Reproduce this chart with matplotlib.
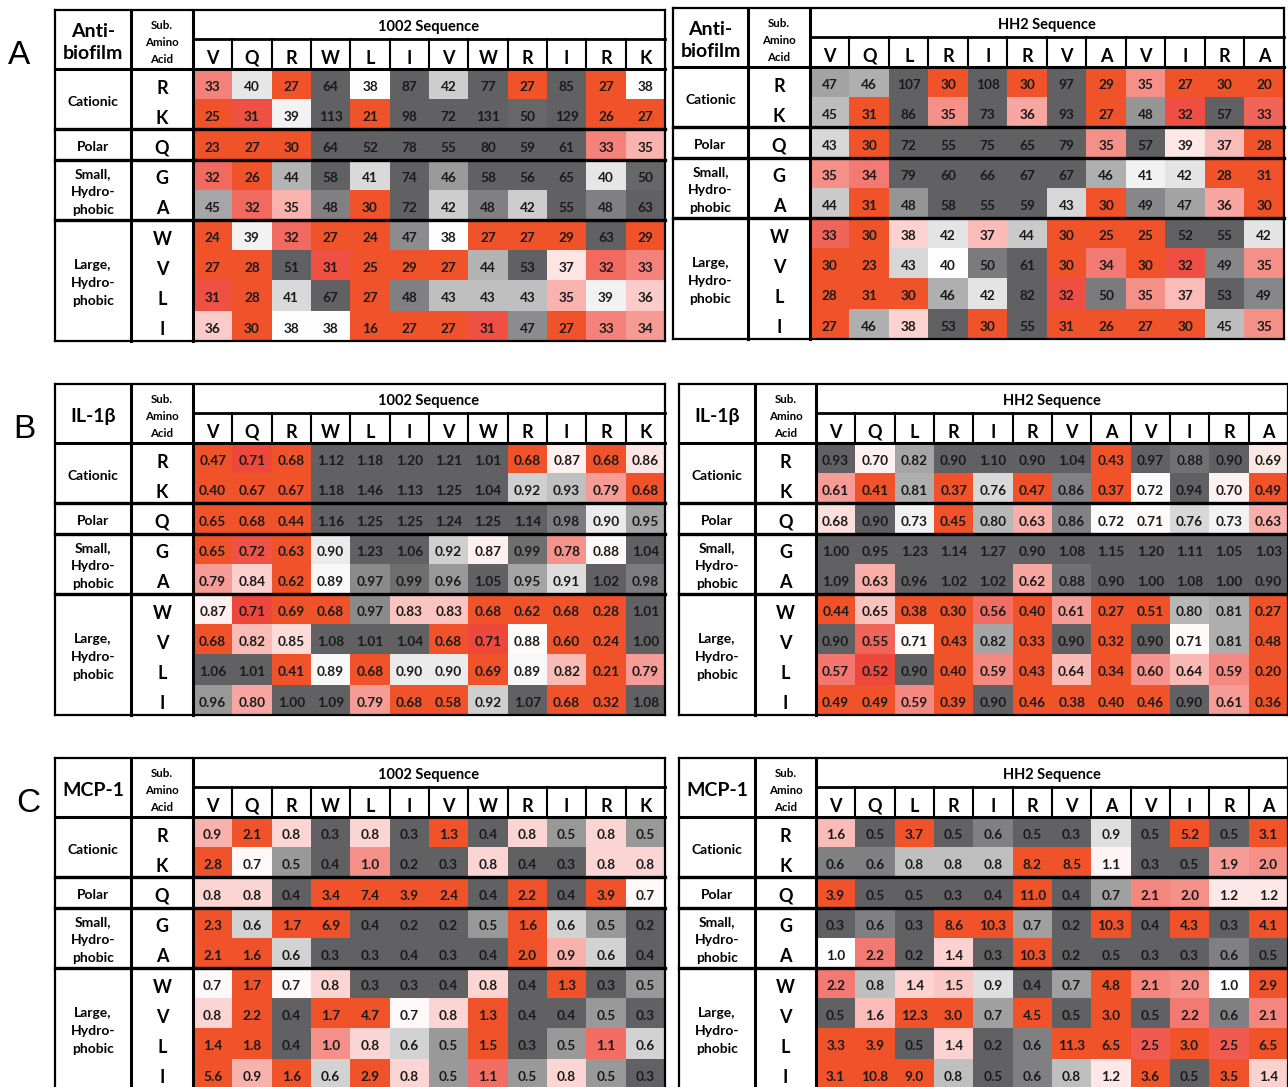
import numpy as np
import matplotlib
matplotlib.use("Agg")
import matplotlib.pyplot as plt
from matplotlib.colors import LinearSegmentedColormap, TwoSlopeNorm

plt.rcParams['font.family'] = ['Lato', 'DejaVu Sans']

seq_1002 = ['V', 'Q', 'R', 'W', 'L', 'I', 'V', 'W', 'R', 'I', 'R', 'K']
seq_hh2 = ['V', 'Q', 'L', 'R', 'I', 'R', 'V', 'A', 'V', 'I', 'R', 'A']
sub_aa = ['R', 'K', 'Q', 'G', 'A', 'W', 'V', 'L', 'I']
groups = [('Cationic', 0, 2), ('Polar', 2, 3),
          ('Small,\nHydro-\nphobic', 3, 5), ('Large,\nHydro-\nphobic', 5, 9)]

# anti-biofilm (MIC-like values)
biofilm_1002 = [
    [33, 40, 27, 64, 38, 87, 42, 77, 27, 85, 27, 38],
    [25, 31, 39, 113, 21, 98, 72, 131, 50, 129, 26, 27],
    [23, 27, 30, 64, 52, 78, 55, 80, 59, 61, 33, 35],
    [32, 26, 44, 58, 41, 74, 46, 58, 56, 65, 40, 50],
    [45, 32, 35, 48, 30, 72, 42, 48, 42, 55, 48, 63],
    [24, 39, 32, 27, 24, 47, 38, 27, 27, 29, 63, 29],
    [27, 28, 51, 31, 25, 29, 27, 44, 53, 37, 32, 33],
    [31, 28, 41, 67, 27, 48, 43, 43, 43, 35, 39, 36],
    [36, 30, 38, 38, 16, 27, 27, 31, 47, 27, 33, 34],
]
biofilm_hh2 = [
    [47, 46, 107, 30, 108, 30, 97, 29, 35, 27, 30, 20],
    [45, 31, 86, 35, 73, 36, 93, 27, 48, 32, 57, 33],
    [43, 30, 72, 55, 75, 65, 79, 35, 57, 39, 37, 28],
    [35, 34, 79, 60, 66, 67, 67, 46, 41, 42, 28, 31],
    [44, 31, 48, 58, 55, 59, 43, 30, 49, 47, 36, 30],
    [33, 30, 38, 42, 37, 44, 30, 25, 25, 52, 55, 42],
    [30, 23, 43, 40, 50, 61, 30, 34, 30, 32, 49, 35],
    [28, 31, 30, 46, 42, 82, 32, 50, 35, 37, 53, 49],
    [27, 46, 38, 53, 30, 55, 31, 26, 27, 30, 45, 35],
]

# IL-1beta relative levels
il1b_1002 = [
    [0.47, 0.71, 0.68, 1.12, 1.18, 1.20, 1.21, 1.01, 0.68, 0.87, 0.68, 0.86],
    [0.40, 0.67, 0.67, 1.18, 1.46, 1.13, 1.25, 1.04, 0.92, 0.93, 0.79, 0.68],
    [0.65, 0.68, 0.44, 1.16, 1.25, 1.25, 1.24, 1.25, 1.14, 0.98, 0.90, 0.95],
    [0.65, 0.72, 0.63, 0.90, 1.23, 1.06, 0.92, 0.87, 0.99, 0.78, 0.88, 1.04],
    [0.79, 0.84, 0.62, 0.89, 0.97, 0.99, 0.96, 1.05, 0.95, 0.91, 1.02, 0.98],
    [0.87, 0.71, 0.69, 0.68, 0.97, 0.83, 0.83, 0.68, 0.62, 0.68, 0.28, 1.01],
    [0.68, 0.82, 0.85, 1.08, 1.01, 1.04, 0.68, 0.71, 0.88, 0.60, 0.24, 1.00],
    [1.06, 1.01, 0.41, 0.89, 0.68, 0.90, 0.90, 0.69, 0.89, 0.82, 0.21, 0.79],
    [0.96, 0.80, 1.00, 1.09, 0.79, 0.68, 0.58, 0.92, 1.07, 0.68, 0.32, 1.08],
]
il1b_hh2 = [
    [0.93, 0.70, 0.82, 0.90, 1.10, 0.90, 1.04, 0.43, 0.97, 0.88, 0.90, 0.69],
    [0.61, 0.41, 0.81, 0.37, 0.76, 0.47, 0.86, 0.37, 0.72, 0.94, 0.70, 0.49],
    [0.68, 0.90, 0.73, 0.45, 0.80, 0.63, 0.86, 0.72, 0.71, 0.76, 0.73, 0.63],
    [1.00, 0.95, 1.23, 1.14, 1.27, 0.90, 1.08, 1.15, 1.20, 1.11, 1.05, 1.03],
    [1.09, 0.63, 0.96, 1.02, 1.02, 0.62, 0.88, 0.90, 1.00, 1.08, 1.00, 0.90],
    [0.44, 0.65, 0.38, 0.30, 0.56, 0.40, 0.61, 0.27, 0.51, 0.80, 0.81, 0.27],
    [0.90, 0.55, 0.71, 0.43, 0.82, 0.33, 0.90, 0.32, 0.90, 0.71, 0.81, 0.48],
    [0.57, 0.52, 0.90, 0.40, 0.59, 0.43, 0.64, 0.34, 0.60, 0.64, 0.59, 0.20],
    [0.49, 0.49, 0.59, 0.39, 0.90, 0.46, 0.38, 0.40, 0.46, 0.90, 0.61, 0.36],
]

# MCP-1 fold induction
mcp1_1002 = [
    [0.9, 2.1, 0.8, 0.3, 0.8, 0.3, 1.3, 0.4, 0.8, 0.5, 0.8, 0.5],
    [2.8, 0.7, 0.5, 0.4, 1.0, 0.2, 0.3, 0.8, 0.4, 0.3, 0.8, 0.8],
    [0.8, 0.8, 0.4, 3.4, 7.4, 3.9, 2.4, 0.4, 2.2, 0.4, 3.9, 0.7],
    [2.3, 0.6, 1.7, 6.9, 0.4, 0.2, 0.2, 0.5, 1.6, 0.6, 0.5, 0.2],
    [2.1, 1.6, 0.6, 0.3, 0.3, 0.4, 0.3, 0.4, 2.0, 0.9, 0.6, 0.4],
    [0.7, 1.7, 0.7, 0.8, 0.3, 0.3, 0.4, 0.8, 0.4, 1.3, 0.3, 0.5],
    [0.8, 2.2, 0.4, 1.7, 4.7, 0.7, 0.8, 1.3, 0.4, 0.4, 0.5, 0.3],
    [1.4, 1.8, 0.4, 1.0, 0.8, 0.6, 0.5, 1.5, 0.3, 0.5, 1.1, 0.6],
    [5.6, 0.9, 1.6, 0.6, 2.9, 0.8, 0.5, 1.1, 0.5, 0.8, 0.5, 0.3],
]
mcp1_hh2 = [
    [1.6, 0.5, 3.7, 0.5, 0.6, 0.5, 0.3, 0.9, 0.5, 5.2, 0.5, 3.1],
    [0.6, 0.6, 0.8, 0.8, 0.8, 8.2, 8.5, 1.1, 0.3, 0.5, 1.9, 2.0],
    [3.9, 0.5, 0.5, 0.3, 0.4, 11.0, 0.4, 0.7, 2.1, 2.0, 1.2, 1.2],
    [0.3, 0.6, 0.3, 8.6, 10.3, 0.7, 0.2, 10.3, 0.4, 4.3, 0.3, 4.1],
    [1.0, 2.2, 0.2, 1.4, 0.3, 10.3, 0.2, 0.5, 0.3, 0.3, 0.6, 0.5],
    [2.2, 0.8, 1.4, 1.5, 0.9, 0.4, 0.7, 4.8, 2.1, 2.0, 1.0, 2.9],
    [0.5, 1.6, 12.3, 3.0, 0.7, 4.5, 0.5, 3.0, 0.5, 2.2, 0.6, 2.1],
    [3.3, 3.9, 0.5, 1.4, 0.2, 0.6, 11.3, 6.5, 2.5, 3.0, 2.5, 6.5],
    [3.1, 10.8, 9.0, 0.8, 0.5, 0.6, 0.8, 1.2, 3.6, 0.5, 3.5, 1.4],
]

ORANGE = '#F0522A'
RED = '#EE4438'
GREY = '#616163'

# low value = good (orange), high value = grey
cmap_low = LinearSegmentedColormap.from_list('low', [RED, 'white', GREY])
cmap_low.set_under(ORANGE)
cmap_low.set_over(GREY)
# high value = good (orange), low value = grey
cmap_high = LinearSegmentedColormap.from_list('high', [GREY, 'white', RED])
cmap_high.set_under(GREY)
cmap_high.set_over(ORANGE)

TITLE_H = 29
LETTER_H = 30
ROW_H = 30.2


def draw_table(ax, x0, c1, c2, x1, top, label, seq_name, letters, values,
               cmap, limits, fmt):
    vals = np.array(values, dtype=float)
    ytitle = top + TITLE_H
    ydata = ytitle + LETTER_H
    bottom = ydata + ROW_H * len(sub_aa)
    xe = np.linspace(c2, x1, len(letters) + 1)
    ye = ydata + ROW_H * np.arange(len(sub_aa) + 1)

    vmin, vcenter, vmax = limits
    norm = TwoSlopeNorm(vcenter=vcenter, vmin=vmin, vmax=vmax)
    ax.pcolormesh(xe, ye, vals, cmap=cmap, norm=norm, antialiased=False)

    xc = (xe[:-1] + xe[1:]) / 2
    yc = (ye[:-1] + ye[1:]) / 2
    for i in range(vals.shape[0]):
        for j in range(vals.shape[1]):
            ax.text(xc[j], yc[i] + 3, fmt % vals[i, j], ha='center', va='center',
                    fontsize=9.8, fontweight='bold', color='#1a1a1a')

    # header
    ax.text((x0 + c1) / 2, (top + ydata) / 2 + 3, label, ha='center',
            va='center', fontsize=14, fontweight='bold', linespacing=1.35)
    ax.text((c1 + c2) / 2, (top + ydata) / 2 + 3, 'Sub.\nAmino\nAcid',
            ha='center', va='center', fontsize=8.3, fontweight='bold',
            linespacing=1.7)
    ax.text((c2 + x1) / 2, (top + ytitle) / 2 + 2.5, seq_name, ha='center',
            va='center', fontsize=10.5, fontweight='bold')
    for j, let in enumerate(letters):
        ax.text(xc[j], (ytitle + ydata) / 2 + 4, let, ha='center', va='center',
                fontsize=13, fontweight='bold')

    # row labels
    for i, aa in enumerate(sub_aa):
        ax.text((c1 + c2) / 2, yc[i] + 4, aa, ha='center', va='center',
                fontsize=13, fontweight='bold')
    for name, r0, r1 in groups:
        ax.text((x0 + c1) / 2, (ye[r0] + ye[r1]) / 2 + 2.5, name, ha='center',
                va='center', fontsize=10, fontweight='bold', linespacing=1.6)

    # grid lines
    lk = dict(color='black', solid_capstyle='projecting', zorder=5)
    ax.plot([x0, x1], [top, top], lw=1.6, **lk)
    ax.plot([c2, x1], [ytitle, ytitle], lw=2.0, **lk)
    ax.plot([x0, x1], [ydata, ydata], lw=2.2, **lk)
    for r in (2, 3, 5):
        ax.plot([x0, x1], [ye[r], ye[r]], lw=2.4, **lk)
    ax.plot([x0, x1], [bottom, bottom], lw=1.6, **lk)
    for x in (x0, x1):
        ax.plot([x, x], [top, bottom], lw=1.6, **lk)
    for x in (c1, c2):
        ax.plot([x, x], [top, bottom], lw=2.2, **lk)
    for x in xe[1:-1]:
        ax.plot([x, x], [ytitle, ydata], lw=1.5, **lk)


fig = plt.figure(figsize=(12.88, 10.87), dpi=100)
ax = fig.add_axes([0, 0, 1, 1])
ax.set_xlim(0, 1288)
ax.set_ylim(1087, 0)
ax.axis('off')

panel_tops = {'A': 10, 'B': 384, 'C': 758}
panel_x = {'A': 19, 'B': 24, 'C': 28}
panels = [
    ('A', 'Anti-\nbiofilm', biofilm_1002, biofilm_hh2, cmap_low,
     (30.5, 38, 50.5), (31.5, 40, 52), '%d'),
    ('B', 'IL-1β', il1b_1002, il1b_hh2, cmap_low,
     (0.705, 0.885, 1.0), (0.515, 0.715, 0.90), '%.2f'),
    ('C', 'MCP-1', mcp1_1002, mcp1_hh2, cmap_high,
     (0.4, 0.68, 1.22), (0.5, 1.0, 2.7), '%.1f'),
]

for key, label, left_vals, right_vals, cmap, lim_l, lim_r, fmt in panels:
    top = panel_tops[key]
    ax.text(panel_x[key], top + 46, key, ha='center', va='center',
            fontsize=24, family=['Liberation Sans', 'DejaVu Sans'])
    draw_table(ax, 55, 131, 193, 665, top, label, '1002 Sequence', seq_1002,
               left_vals, cmap, lim_l, fmt)
    if key == 'A':
        rx = (673, 748, 810, 1284)
        rtop = top - 2
    else:
        rx = (679, 755, 816, 1288)
        rtop = top
    draw_table(ax, *rx, rtop, label, 'HH2 Sequence', seq_hh2,
               right_vals, cmap, lim_r, fmt)

fig.savefig('out.png', dpi=100)
